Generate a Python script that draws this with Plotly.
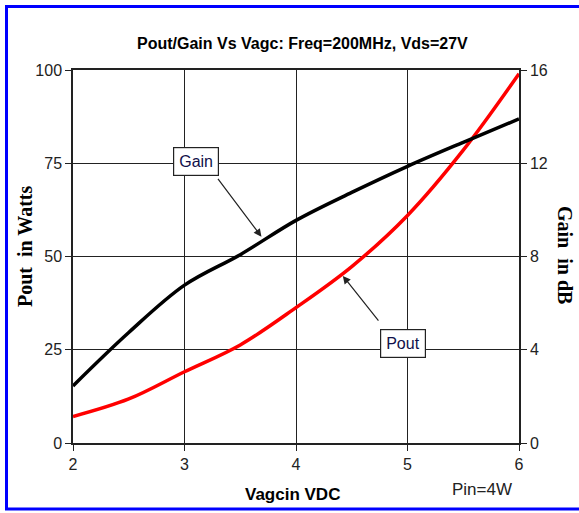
import plotly.graph_objects as go

# ---- data ----
vagc = [2.0, 2.5, 3.0, 3.5, 4.0, 4.5, 5.0, 5.5, 6.0]
pout_watts = [7.1, 11.8, 19.1, 26.3, 36.3, 47.3, 61.0, 78.5, 99.0]
gain_db = [2.45, 4.74, 6.77, 8.08, 9.55, 10.75, 11.87, 12.9, 13.9]
x_ticks = [2, 3, 4, 5, 6]
y_ticks = [0, 25, 50, 75, 100]
y2_ticks = [0, 4, 8, 12, 16]

W, H = 579, 513
L, R, T, B = 73, 519, 70, 443
NARROW = "Liberation Sans Narrow, Arial Narrow, Arial, sans-serif"
SERIF = "Liberation Serif, Times New Roman, serif"


def px(x):
    return (x - L) / (R - L)


def py(y):
    return (B - y) / (B - T)


fig = go.Figure()
fig.add_trace(go.Scatter(x=vagc, y=gain_db, mode="lines", yaxis="y2",
                         line=dict(color="black", width=3.5, shape="spline"),
                         name="Gain", showlegend=False))
fig.add_trace(go.Scatter(x=vagc, y=pout_watts, mode="lines",
                         line=dict(color="#ff0000", width=3.5, shape="spline"),
                         name="Pout", showlegend=False))

axis_common = dict(showgrid=True, gridcolor="#222222", gridwidth=1,
                   showline=True, linecolor="#222222", linewidth=1.5,
                   ticks="outside", ticklen=6, tickcolor="#222222",
                   tickfont=dict(family=NARROW, size=16, color="#222222"),
                   zeroline=False)

fig.update_layout(
    width=W, height=H,
    margin=dict(l=L, r=W - R, t=T, b=H - B),
    paper_bgcolor="white", plot_bgcolor="white",
    xaxis=dict(range=[2, 6], tickvals=x_ticks, mirror=True, **axis_common),
    yaxis=dict(range=[0, 100], tickvals=y_ticks, mirror=True, **axis_common),
    yaxis2=dict(range=[0, 16], tickvals=y2_ticks, overlaying="y", side="right",
                showgrid=False, showline=True, linecolor="#222222", linewidth=1.5,
                ticks="outside", ticklen=6, tickcolor="#222222",
                tickfont=dict(family=NARROW, size=16, color="#222222"),
                zeroline=False),
    shapes=[dict(type="rect", xref="paper", yref="paper",
                 x0=px(6.5), x1=px(600), y0=py(509), y1=py(6.5),
                 line=dict(color="#0000ff", width=3), layer="above")],
)

ann = []
# title
ann.append(dict(text="<b>Pout/Gain Vs Vagc: Freq=200MHz, Vds=27V</b>", xref="paper", yref="paper",
                x=px(302), y=py(44), showarrow=False, xanchor="center", yanchor="middle",
                font=dict(family=NARROW, size=16, color="black")))
# x axis title
ann.append(dict(text="<b>Vagcin VDC</b>", xref="paper", yref="paper",
                x=px(292), y=py(494), showarrow=False, xanchor="center", yanchor="middle",
                font=dict(family=NARROW, size=17, color="black")))
ann.append(dict(text="Pin=4W", xref="paper", yref="paper",
                x=px(482), y=py(489), showarrow=False, xanchor="center", yanchor="middle",
                font=dict(family=NARROW, size=17, color="#222222")))
# y axis titles
ann.append(dict(text="<b>Pout  in Watts</b>", xref="paper", yref="paper",
                x=px(25), y=py(246), showarrow=False, textangle=-90,
                xanchor="center", yanchor="middle",
                font=dict(family=SERIF, size=20, color="black")))
ann.append(dict(text="<b>Gain  in dB</b>", xref="paper", yref="paper",
                x=px(565), y=py(255), showarrow=False, textangle=90,
                xanchor="center", yanchor="middle",
                font=dict(family=SERIF, size=20, color="black")))
# callout arrows
ann.append(dict(text="", x=3.69, y=55.3, ax=3.29, ay=71.2, xref="x", yref="y",
                axref="x", ayref="y", showarrow=True, arrowhead=2, arrowsize=1.3,
                arrowwidth=1.2, arrowcolor="#222222"))
ann.append(dict(text="", x=4.42, y=44.8, ax=4.75, ay=32.4, xref="x", yref="y",
                axref="x", ayref="y", showarrow=True, arrowhead=2, arrowsize=1.3,
                arrowwidth=1.2, arrowcolor="#222222"))
# callout boxes
ann.append(dict(text="Gain", x=3.10, y=75.4, xref="x", yref="y", showarrow=False,
                bgcolor="white", bordercolor="#222222", borderwidth=1.2, borderpad=5,
                font=dict(family="Arial, sans-serif", size=16, color="#10104a")))
ann.append(dict(text="Pout", x=4.96, y=26.8, xref="x", yref="y", showarrow=False,
                bgcolor="white", bordercolor="#222222", borderwidth=1.2, borderpad=5,
                font=dict(family="Arial, sans-serif", size=16, color="#10104a")))

fig.update_layout(annotations=ann)
fig.write_html("out.html", config={"displayModeBar": False},
               post_script="document.body.style.margin='0';document.body.style.padding='0';")
